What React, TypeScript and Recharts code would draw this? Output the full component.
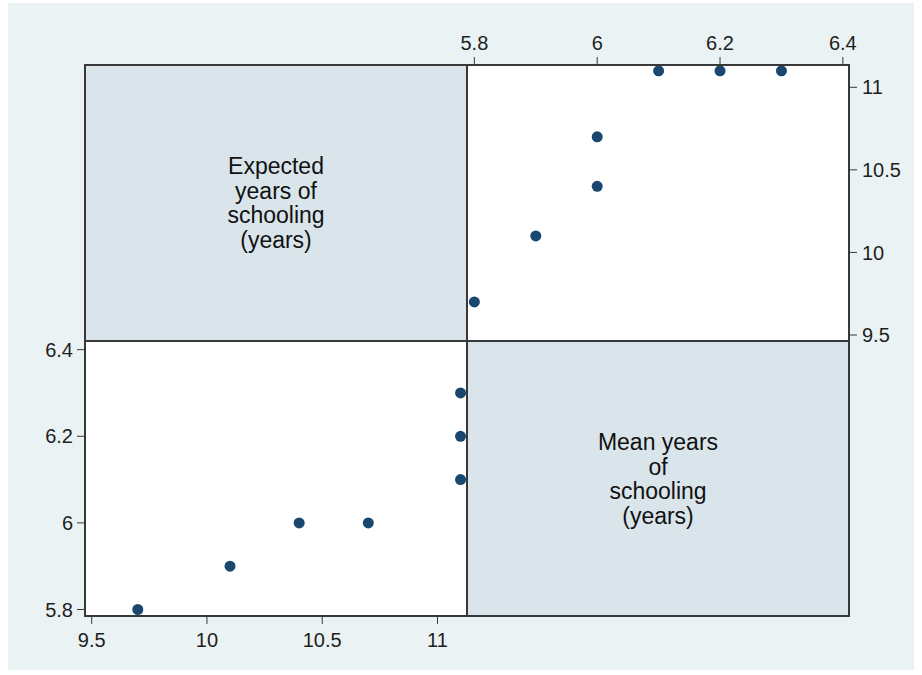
import { ScatterChart, Scatter, XAxis, YAxis } from 'recharts'

// Expected vs mean years of schooling (Stata-style scatter matrix)
const expectedYears = [9.7, 10.1, 10.4, 10.7, 11.1, 11.1, 11.1]
const meanYears = [5.8, 5.9, 6.0, 6.0, 6.1, 6.2, 6.3]
const expectedTicks = [9.5, 10, 10.5, 11]
const meanTicks = [5.8, 6, 6.2, 6.4]
const expectedLabel = ['Expected', 'years of', 'schooling', '(years)']
const meanLabel = ['Mean years', 'of', 'schooling', '(years)']

const points = expectedYears.map((e, i) => ({ expected: e, mean: meanYears[i] }))

const dot = (p: any) => <circle cx={p.cx} cy={p.cy} r={5.5} fill="#1a476f" />
const tickStyle = { fontSize: 20, fill: '#1e1e1e', fontFamily: '"Liberation Sans", Arial, sans-serif' }
const BORDER = '#383838'

const DiagLabel = ({ lines, left, top }: { lines: string[]; left: number; top: number }) => (
  <div style={{
    position: 'absolute', left, top, width: 382, height: 276, background: '#d9e5eb',
    display: 'flex', flexDirection: 'column', alignItems: 'center', justifyContent: 'center',
    fontFamily: '"Liberation Sans", Arial, sans-serif', fontSize: 23, lineHeight: '24.5px', color: '#111',
  }}>
    {lines.map((l) => <div key={l}>{l}</div>)}
  </div>
)

export default function App() {
  return (
    <div style={{ position: 'absolute', left: 0, top: 0, width: 922, height: 675, background: '#fff', overflow: 'hidden' }}>
      <div style={{ position: 'absolute', left: 8, top: 3, width: 906, height: 667, background: '#eaf2f3' }} />
      <div style={{ position: 'absolute', left: 85, top: 341, width: 382, height: 275, background: '#fff' }} />
      <div style={{ position: 'absolute', left: 467, top: 65, width: 382, height: 276, background: '#fff' }} />
      <DiagLabel lines={expectedLabel} left={85} top={65} />
      <DiagLabel lines={meanLabel} left={467} top={341} />

      {/* bottom-left: x = expected, y = mean */}
      <div style={{ position: 'absolute', left: 20, top: 331 }}>
        <ScatterChart width={457} height={329} margin={{ top: 10, right: 10, left: 0, bottom: 0 }}>
          <XAxis type="number" dataKey="expected" domain={[9.471, 11.128]} ticks={expectedTicks} allowDataOverflow
            height={44} axisLine={false} tickSize={8} tickMargin={9} tickLine={{ stroke: BORDER }} tick={tickStyle} />
          <YAxis type="number" dataKey="mean" domain={[5.785, 6.42]} ticks={meanTicks} allowDataOverflow
            width={65} axisLine={false} tickSize={8} tickMargin={4} tickLine={{ stroke: BORDER }} tick={tickStyle} />
          <Scatter data={points} shape={dot} isAnimationActive={false} />
        </ScatterChart>
      </div>

      {/* top-right: x = mean, y = expected */}
      <div style={{ position: 'absolute', left: 457, top: 10 }}>
        <ScatterChart width={455} height={341} margin={{ top: 0, right: 0, left: 10, bottom: 10 }}>
          <XAxis type="number" dataKey="mean" orientation="top" domain={[5.788, 6.41]} ticks={meanTicks} allowDataOverflow
            height={55} axisLine={false} tickSize={8} tickMargin={7} tickLine={{ stroke: BORDER }} tick={tickStyle} />
          <YAxis type="number" dataKey="expected" orientation="right" domain={[9.4636, 11.135]} ticks={[9.5, 10, 10.5, 11]} allowDataOverflow
            width={63} axisLine={false} tickSize={8} tickMargin={5} tickLine={{ stroke: BORDER }} tick={tickStyle} />
          <Scatter data={points} shape={dot} isAnimationActive={false} />
        </ScatterChart>
      </div>

      {/* panel frames */}
      <div style={{ position: 'absolute', left: 84, top: 64, width: 766, height: 553, border: `2px solid ${BORDER}`, boxSizing: 'border-box', pointerEvents: 'none' }} />
      <div style={{ position: 'absolute', left: 466, top: 64, width: 2, height: 553, background: BORDER }} />
      <div style={{ position: 'absolute', left: 84, top: 340, width: 766, height: 2, background: BORDER }} />
    </div>
  )
}
